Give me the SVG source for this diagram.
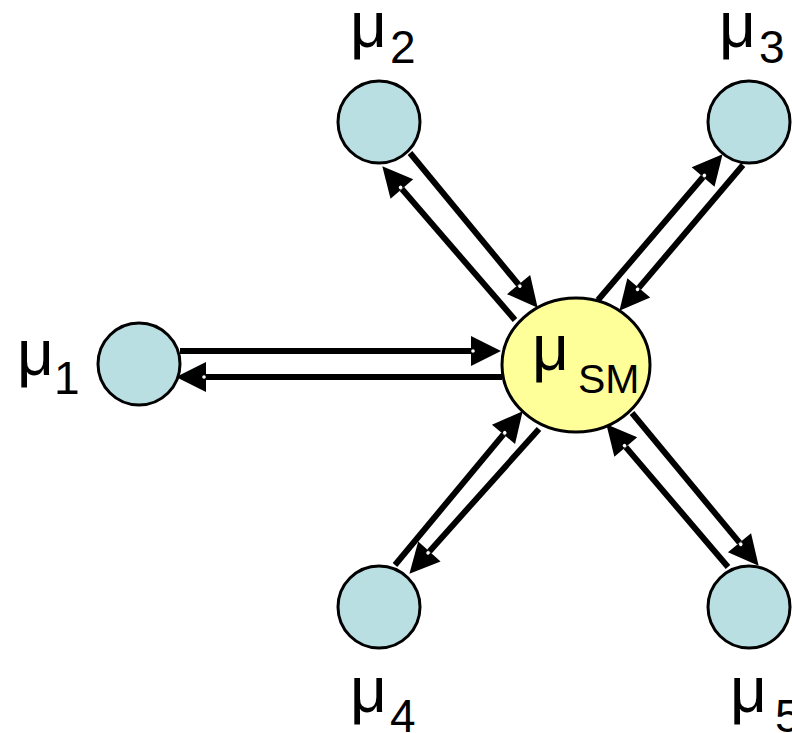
<svg xmlns="http://www.w3.org/2000/svg" width="792" height="733" viewBox="0 0 792 733">
<style>
.small{fill:#b9dfe3;stroke:#000;stroke-width:3}
.center{fill:#ffff99;stroke:#000;stroke-width:3}
.lbl{font-family:"Liberation Sans",Arial,sans-serif;fill:#000}
.mu{font-size:64px}
.sub{font-size:46px}
.subsm{font-size:41px}
.conn{stroke:#000;stroke-width:6;fill:none;marker-end:url(#ah)}
</style>
<defs>
<marker id="ah" markerUnits="userSpaceOnUse" markerWidth="32" markerHeight="32" viewBox="0 -16 32 32" refX="0" refY="0" orient="auto" overflow="visible">
<path d="M0,-15 L30,0 L0,15 Z" fill="#000"/>
<circle cx="2" cy="0" r="1.8" fill="#fff"/>
</marker>
</defs>
<rect width="792" height="733" fill="#fff"/>
<g id="connectors">
<line class="conn" x1="180" y1="351" x2="471" y2="351"/>
<line class="conn" x1="502" y1="377" x2="206" y2="377"/>
<line class="conn" x1="410" y1="153" x2="518.6" y2="284.6"/>
<line class="conn" x1="515" y1="320" x2="401.9" y2="189"/>
<line class="conn" x1="598" y1="300" x2="703.1" y2="177"/>
<line class="conn" x1="743" y1="165" x2="638.8" y2="287.9"/>
<line class="conn" x1="395" y1="565" x2="503.5" y2="434.3"/>
<line class="conn" x1="539" y1="429" x2="429.4" y2="551.4"/>
<line class="conn" x1="632" y1="413" x2="739.5" y2="542.7"/>
<line class="conn" x1="728" y1="567" x2="625.8" y2="447.1"/>
</g>
<g id="mu1">
<circle class="small" cx="139" cy="364" r="41"/>
<text class="lbl"><tspan class="mu" x="17" y="375">μ</tspan><tspan class="sub" x="54" y="394">1</tspan></text>
</g>
<g id="mu2">
<circle class="small" cx="379" cy="122" r="41"/>
<text class="lbl"><tspan class="mu" x="350" y="47">μ</tspan><tspan class="sub" x="390" y="63">2</tspan></text>
</g>
<g id="mu3">
<circle class="small" cx="749" cy="122" r="41"/>
<text class="lbl"><tspan class="mu" x="719" y="47">μ</tspan><tspan class="sub" x="759" y="63">3</tspan></text>
</g>
<g id="mu4">
<circle class="small" cx="379" cy="607" r="41"/>
<text class="lbl"><tspan class="mu" x="350" y="712">μ</tspan><tspan class="sub" x="390" y="732">4</tspan></text>
</g>
<g id="mu5">
<circle class="small" cx="749" cy="607" r="41"/>
<text class="lbl"><tspan class="mu" x="730" y="712">μ</tspan><tspan class="sub" x="775" y="732">5</tspan></text>
</g>
<g id="muSM">
<ellipse class="center" cx="576" cy="365" rx="74" ry="67"/>
<text class="lbl"><tspan class="mu" x="532" y="370">μ</tspan><tspan class="subsm" x="578" y="393">SM</tspan></text>
</g>
</svg>
